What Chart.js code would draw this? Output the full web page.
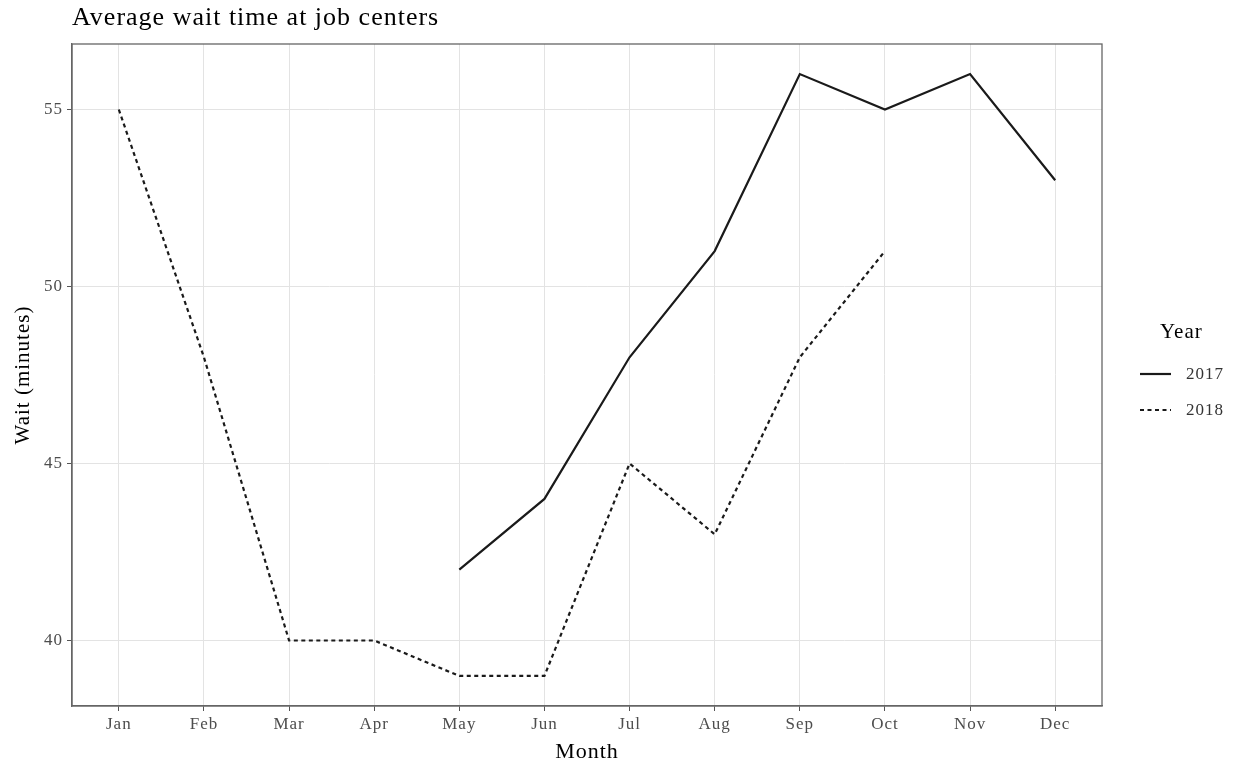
<!DOCTYPE html>
<html>
<head>
<meta charset="utf-8">
<script src="https://cdn.jsdelivr.net/npm/chart.js@4.4.1/dist/chart.umd.min.js"></script>
<style>
  html, body { margin: 0; padding: 0; background: #fff; }
  #wrap { width: 1238px; height: 767px; }
</style>
</head>
<body>
<div id="wrap"><canvas id="myChart"></canvas></div>
<script>
"use strict";

// data
var months = ['Jan', 'Feb', 'Mar', 'Apr', 'May', 'Jun', 'Jul', 'Aug', 'Sep', 'Oct', 'Nov', 'Dec'];
var wait2017 = [null, null, null, null, 42, 44, 48, 51, 56, 55, 56, 53];
var wait2018 = [55, 48, 40, 40, 39, 39, 45, 43, 48, 51, null, null];
var yTicks = [40, 45, 50, 55];
var years = ['2017', '2018'];

var serif = "'Liberation Serif', 'DejaVu Serif', serif";
var gap = '1px';

function toPoints(values) {
    var pts = [];
    values.forEach(function (v, i) {
        if (v !== null) pts.push({ x: i, y: v });
    });
    return pts;
}

/* the reference text runs a bit wide, so space the letters out a little */
var spacing = {
    id: 'spacing',
    beforeUpdate: function (chart) { chart.ctx.letterSpacing = gap; },
    beforeDraw: function (chart) { chart.ctx.letterSpacing = gap; }
};

/* title, panel border and legend, ggplot style */
var extras = {
    id: 'extras',
    afterDraw: function (chart) {
        var ctx = chart.ctx;
        var a = chart.chartArea;
        ctx.save();
        ctx.letterSpacing = gap;

        // panel border
        ctx.strokeStyle = '#666';
        ctx.lineWidth = 1.3;
        ctx.strokeRect(a.left, a.top, a.right - a.left, a.bottom - a.top);

        // title
        ctx.fillStyle = '#000';
        ctx.font = "26px " + serif;
        ctx.textAlign = 'left';
        ctx.textBaseline = 'middle';
        ctx.fillText('Average wait time at job centers', 72, 18);

        // legend
        ctx.font = "21px " + serif;
        ctx.fillText('Year', 1160, 332);
        ctx.font = "17px " + serif;
        ctx.fillStyle = '#333';
        chart.data.datasets.forEach(function (ds, i) {
            var y = 374 + i * 36;
            ctx.beginPath();
            ctx.setLineDash(ds.borderDash || []);
            ctx.strokeStyle = ds.borderColor;
            ctx.lineWidth = ds.borderWidth;
            ctx.moveTo(1140, y);
            ctx.lineTo(1171, y);
            ctx.stroke();
            ctx.setLineDash([]);
            ctx.fillText(ds.label, 1186, y + 1);
        });
        ctx.restore();
    }
};

var ctx = document.getElementById('myChart').getContext('2d');
var chart = new Chart(ctx, {
    type: 'line',
    data: {
        datasets: [
            {
                label: years[0],
                data: toPoints(wait2017),
                borderColor: '#1a1a1a',
                borderWidth: 2.2,
                pointRadius: 0,
                tension: 0
            },
            {
                label: years[1],
                data: toPoints(wait2018),
                borderColor: '#1a1a1a',
                borderWidth: 2.2,
                borderDash: [4, 3.5],
                pointRadius: 0,
                tension: 0
            }
        ]
    },
    options: {
        responsive: true,
        maintainAspectRatio: false,
        animation: false,
        layout: { padding: { top: 44, right: 136, left: 0, bottom: 0 } },
        plugins: {
            legend: { display: false },
            tooltip: { enabled: false }
        },
        scales: {
            x: {
                type: 'linear',
                min: -0.55,
                max: 11.55,
                afterBuildTicks: function (scale) {
                    scale.ticks = months.map(function (m, i) { return { value: i }; });
                },
                afterFit: function (scale) { scale.height = 61; },
                ticks: {
                    callback: function (v) { return months[v]; },
                    color: '#4d4d4d',
                    font: { family: serif, size: 17 },
                    padding: 3,
                    maxRotation: 0,
                    autoSkip: false
                },
                grid: { color: '#e3e3e3', tickColor: '#555', tickLength: 5 },
                border: { color: '#666', width: 1.3 },
                title: {
                    display: true,
                    text: 'Month',
                    color: '#000',
                    font: { family: serif, size: 22 },
                    padding: { top: 0, bottom: 2 }
                }
            },
            y: {
                min: 38.15,
                max: 56.85,
                afterBuildTicks: function (scale) {
                    scale.ticks = yTicks.map(function (v) { return { value: v }; });
                },
                afterFit: function (scale) { scale.width = 72; },
                ticks: {
                    color: '#4d4d4d',
                    font: { family: serif, size: 17 },
                    padding: 4
                },
                grid: { color: '#e3e3e3', tickColor: '#555', tickLength: 5 },
                border: { color: '#666', width: 1.3 },
                title: {
                    display: true,
                    text: 'Wait (minutes)',
                    color: '#000',
                    font: { family: serif, size: 21 },
                    padding: { top: 11, bottom: 0 }
                }
            }
        }
    },
    plugins: [spacing, extras]
});
</script>
</body>
</html>
